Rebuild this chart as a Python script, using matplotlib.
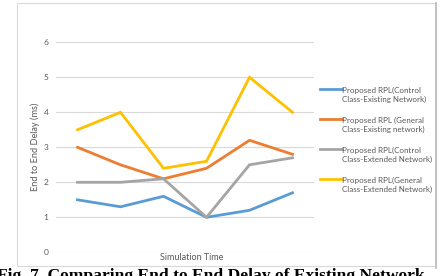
import matplotlib
matplotlib.use("Agg")
import matplotlib.pyplot as plt
from matplotlib.lines import Line2D
from matplotlib.patches import Rectangle

categories = ["1", "2", "3", "4", "5", "6"]
control_existing = [1.5, 1.3, 1.6, 1.0, 1.2, 1.7]
general_existing = [3.0, 2.5, 2.1, 2.4, 3.2, 2.8]
control_extended = [2.0, 2.0, 2.1, 1.0, 2.5, 2.7]
general_extended = [3.5, 4.0, 2.4, 2.6, 5.0, 4.0]
series_labels = [
    "Proposed RPL(Control\nClass-Existing Network)",
    "Proposed RPL (General\nClass-Existing network)",
    "Proposed RPL(Control\nClass-Extended Network)",
    "Proposed RPL(General\nClass-Extended Network)",
]
y_ticks = [0, 1, 2, 3, 4, 5, 6]
colors = ["#5B9BD5", "#ED7D31", "#A5A5A5", "#FFC000"]

plt.rcParams['font.family'] = ['Lato', 'DejaVu Sans']

W, H = 441, 276
fig = plt.figure(figsize=(W / 100, H / 100), dpi=100)

def fx(px):
    return px / W

def fy(py):
    return 1 - py / H

# outer chart border
fig.add_artist(Rectangle((fx(17), fy(266)), fx(436) - fx(17), fy(3) - fy(266),
                         transform=fig.transFigure, fill=False,
                         edgecolor="#D9D9D9", linewidth=0.8))
fig.add_artist(Line2D([fx(436), fx(436)], [fy(3), fy(268)], transform=fig.transFigure,
                      color="#BFBFBF", linewidth=1.3))

ax = fig.add_axes([fx(56), fy(252.3), fx(314) - fx(56), fy(42.3) - fy(252.3)])
x = list(range(len(categories)))
all_series = [control_existing, general_existing, control_extended, general_extended]
lines = []
for vals, c, lab in zip(all_series, colors, series_labels):
    ln, = ax.plot(x, vals, color=c, linewidth=2.0, label=lab, solid_joinstyle="miter", zorder=3)
    lines.append(ln)

ax.set_xlim(-0.5, len(categories) - 0.5)
ax.set_ylim(0, 6)
ax.set_yticks(y_ticks)
ax.set_yticklabels([str(t) for t in y_ticks])
ax.set_xticks([])
ax.grid(axis="y", color="#D9D9D9", linewidth=0.8)
ax.set_axisbelow(True)
for s in ax.spines.values():
    s.set_visible(False)
ax.tick_params(axis="y", length=0, pad=5.5, labelsize=6, labelcolor="#595959")

fig.text(fx(35), fy(146.5), "End to End Delay (ms)", rotation=90, ha="center", va="center",
         fontsize=6.6, color="#595959")
fig.text(fx(192), fy(258), "Simulation Time", ha="center", va="center",
         fontsize=6.5, color="#595959")

# legend (manual, line sample aligned with first text line as in the source)
entry_y = [89.3, 119.3, 149.3, 179.3]
for ln, ey in zip(lines, entry_y):
    fig.add_artist(Line2D([fx(320), fx(341.5)], [fy(ey), fy(ey)], transform=fig.transFigure,
                          color=ln.get_color(), linewidth=2.0))
    fig.text(fx(342), fy(ey + 5.6), ln.get_label(), ha="left", va="center", fontsize=5.8,
             color="#595959", linespacing=1.45)

# caption
fig.text(fx(-3), fy(280.5), "Fig. 7. Comparing End to End Delay of Existing Network",
         ha="left", va="baseline", fontsize=12.6, fontweight="bold",
         family=["Liberation Serif", "DejaVu Serif"], color="black")

fig.savefig("out.png", dpi=100)
